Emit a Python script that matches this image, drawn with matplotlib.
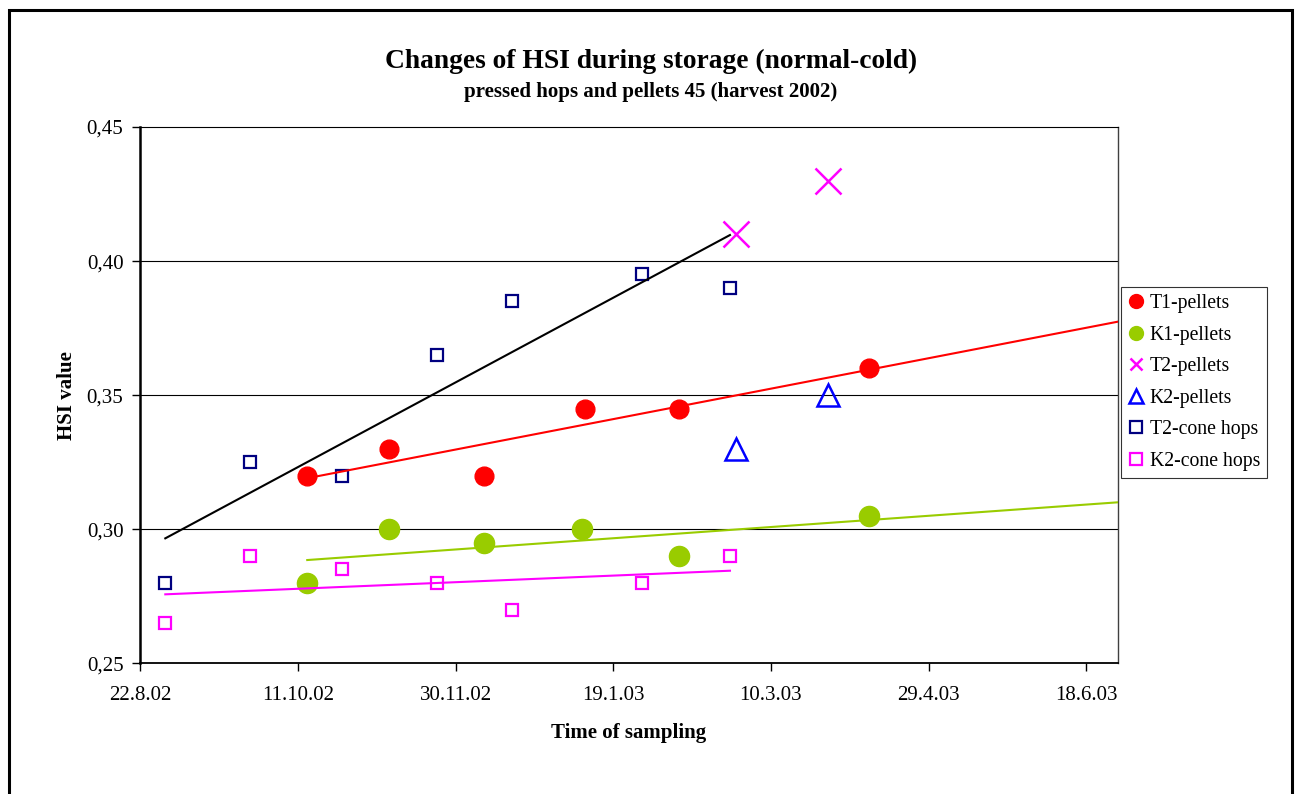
import matplotlib
matplotlib.use("Agg")
import matplotlib.pyplot as plt
import matplotlib.dates as mdates
from matplotlib.lines import Line2D
from matplotlib.patches import Rectangle
import numpy as np
import pandas as pd

plt.rcParams["font.family"] = ["Liberation Serif", "DejaVu Serif"]

# sampling dates and HSI values
cone_dates = ["2002-08-30", "2002-09-26", "2002-10-25", "2002-11-24",
              "2002-12-18", "2003-01-28", "2003-02-25"]
t2_cone = [0.28, 0.325, 0.32, 0.365, 0.385, 0.395, 0.39]
k2_cone = [0.265, 0.29, 0.285, 0.28, 0.27, 0.28, 0.29]

t1_dates = ["2002-10-14", "2002-11-09", "2002-12-09", "2003-01-10",
            "2003-02-09", "2003-04-10"]
t1_pellets = [0.32, 0.33, 0.32, 0.345, 0.345, 0.36]
k1_dates = ["2002-10-14", "2002-11-09", "2002-12-09", "2003-01-09",
            "2003-02-09", "2003-04-10"]
k1_pellets = [0.28, 0.30, 0.295, 0.30, 0.29, 0.305]

t2k2_dates = ["2003-02-27", "2003-03-28"]
t2_pellets = [0.41, 0.43]
k2_pellets = [0.33, 0.35]

# trend drawn for the T2 cone hops
t2_cone_trend_dates = ["2002-08-30", "2003-02-25"]
t2_cone_trend = [0.2966, 0.4097]

x_start, x_end = "2002-08-22", "2003-06-28"
tick_step_days = 50


def dnum(dates):
    return mdates.date2num(pd.to_datetime(dates).to_pydatetime())


fig = plt.figure(figsize=(12.98, 7.94), dpi=100)
ax = fig.add_axes([0.1079, 0.1646, 0.7534, 0.6755])

x0, x1 = dnum([x_start, x_end])
ax.set_xlim(x0, x1)
ax.set_ylim(0.25, 0.45)

for y in [0.30, 0.35, 0.40]:
    ax.axhline(y, color="black", lw=0.8, zorder=1)

xc = dnum(cone_dates)
xt1 = dnum(t1_dates)
xk1 = dnum(k1_dates)
xp = dnum(t2k2_dates)

ax.plot(xt1, t1_pellets, "o", ms=13.5, color="#FF0000", mec="#FF0000", zorder=3)
ax.plot(xk1, k1_pellets, "o", ms=14.5, color="#99CC00", mec="#99CC00", zorder=3)
ax.plot(xp, t2_pellets, "x", ms=19, mew=1.8, color="#FF00FF", zorder=3)
ax.plot(xp, k2_pellets, "^", ms=16, mew=1.8, mfc="none", mec="#0000FF", zorder=3)
ax.plot(xc, t2_cone, "s", ms=8.5, mew=1.6, mfc="none", mec="#000080", zorder=3)
ax.plot(xc, k2_cone, "s", ms=8.5, mew=1.6, mfc="none", mec="#FF00FF", zorder=3)

# linear trends; pellet trends run forward to the end of the axis
def trend(x, y, x_from, x_to, color):
    k, b = np.polyfit(x, y, 1)
    xs = np.array([x_from, x_to])
    ax.plot(xs, k * xs + b, color=color, lw=1.5, zorder=4)

trend(xt1, t1_pellets, xt1[0], x1, "#FF0000")
trend(xk1, k1_pellets, xk1[0], x1, "#99CC00")
trend(xc, k2_cone, xc[0], xc[-1], "#FF00FF")
ax.plot(dnum(t2_cone_trend_dates), t2_cone_trend, color="black", lw=1.5, zorder=4)

ticks = x0 + np.arange(0, x1 - x0 + 1, tick_step_days)
ax.set_xticks(ticks)
ax.xaxis.set_major_formatter(plt.FuncFormatter(
    lambda v, p: (lambda d: f"{d.day}.{d.month}.{d:%y}")(mdates.num2date(v))))
ax.set_yticks([0.25, 0.30, 0.35, 0.40, 0.45])
ax.yaxis.set_major_formatter(plt.FuncFormatter(lambda v, p: f"{v:.2f}".replace(".", ",")))
ax.tick_params(axis="both", labelsize=15, direction="out", length=6, width=1,
               color="black")
ax.tick_params(axis="x", pad=10)
ax.tick_params(axis="y", pad=6)

ax.spines["left"].set_linewidth(1.8)
ax.spines["bottom"].set_linewidth(1.3)
ax.spines["top"].set_linewidth(0.8)
ax.spines["right"].set_linewidth(1.0)
ax.spines["right"].set_color("#404040")

ax.set_xlabel("Time of sampling", fontsize=15, fontweight="bold", labelpad=13)
ax.set_ylabel("HSI value", fontsize=15, fontweight="bold", labelpad=7)

fig.text(0.5015, 0.923, "Changes of HSI during storage (normal-cold)",
         ha="center", va="center", fontsize=19.8, fontweight="bold")
fig.text(0.5015, 0.884, "pressed hops and pellets 45 (harvest 2002)",
         ha="center", va="center", fontsize=15, fontweight="bold")

handles = [
    Line2D([], [], ls="none", marker="o", ms=10, color="#FF0000"),
    Line2D([], [], ls="none", marker="o", ms=10, color="#99CC00"),
    Line2D([], [], ls="none", marker="x", ms=9, mew=1.8, color="#FF00FF"),
    Line2D([], [], ls="none", marker="^", ms=10, mew=1.8, mfc="none", mec="#0000FF"),
    Line2D([], [], ls="none", marker="s", ms=8.5, mew=1.6, mfc="none", mec="#000080"),
    Line2D([], [], ls="none", marker="s", ms=8.5, mew=1.6, mfc="none", mec="#FF00FF"),
]
labels = ["T1-pellets", "K1-pellets", "T2-pellets", "K2-pellets",
          "T2-cone hops", "K2-cone hops"]
leg = fig.legend(handles, labels, loc="upper left",
                 bbox_to_anchor=(1121 / 1298, 1 - 287 / 794),
                 fontsize=14.2, frameon=True, fancybox=False, borderpad=0.35,
                 handlelength=0.8, handletextpad=0.3, labelspacing=0.64,
                 borderaxespad=0)
leg.get_frame().set_edgecolor("black")
leg.get_frame().set_linewidth(0.8)

# chart-area border
fig.patches.append(Rectangle((9 / 1298, -0.05), (1291.5 - 9) / 1298, 1.05 - 9.5 / 794,
                             transform=fig.transFigure, fill=False,
                             edgecolor="black", lw=2.2))

fig.savefig("out.png", dpi=100)
